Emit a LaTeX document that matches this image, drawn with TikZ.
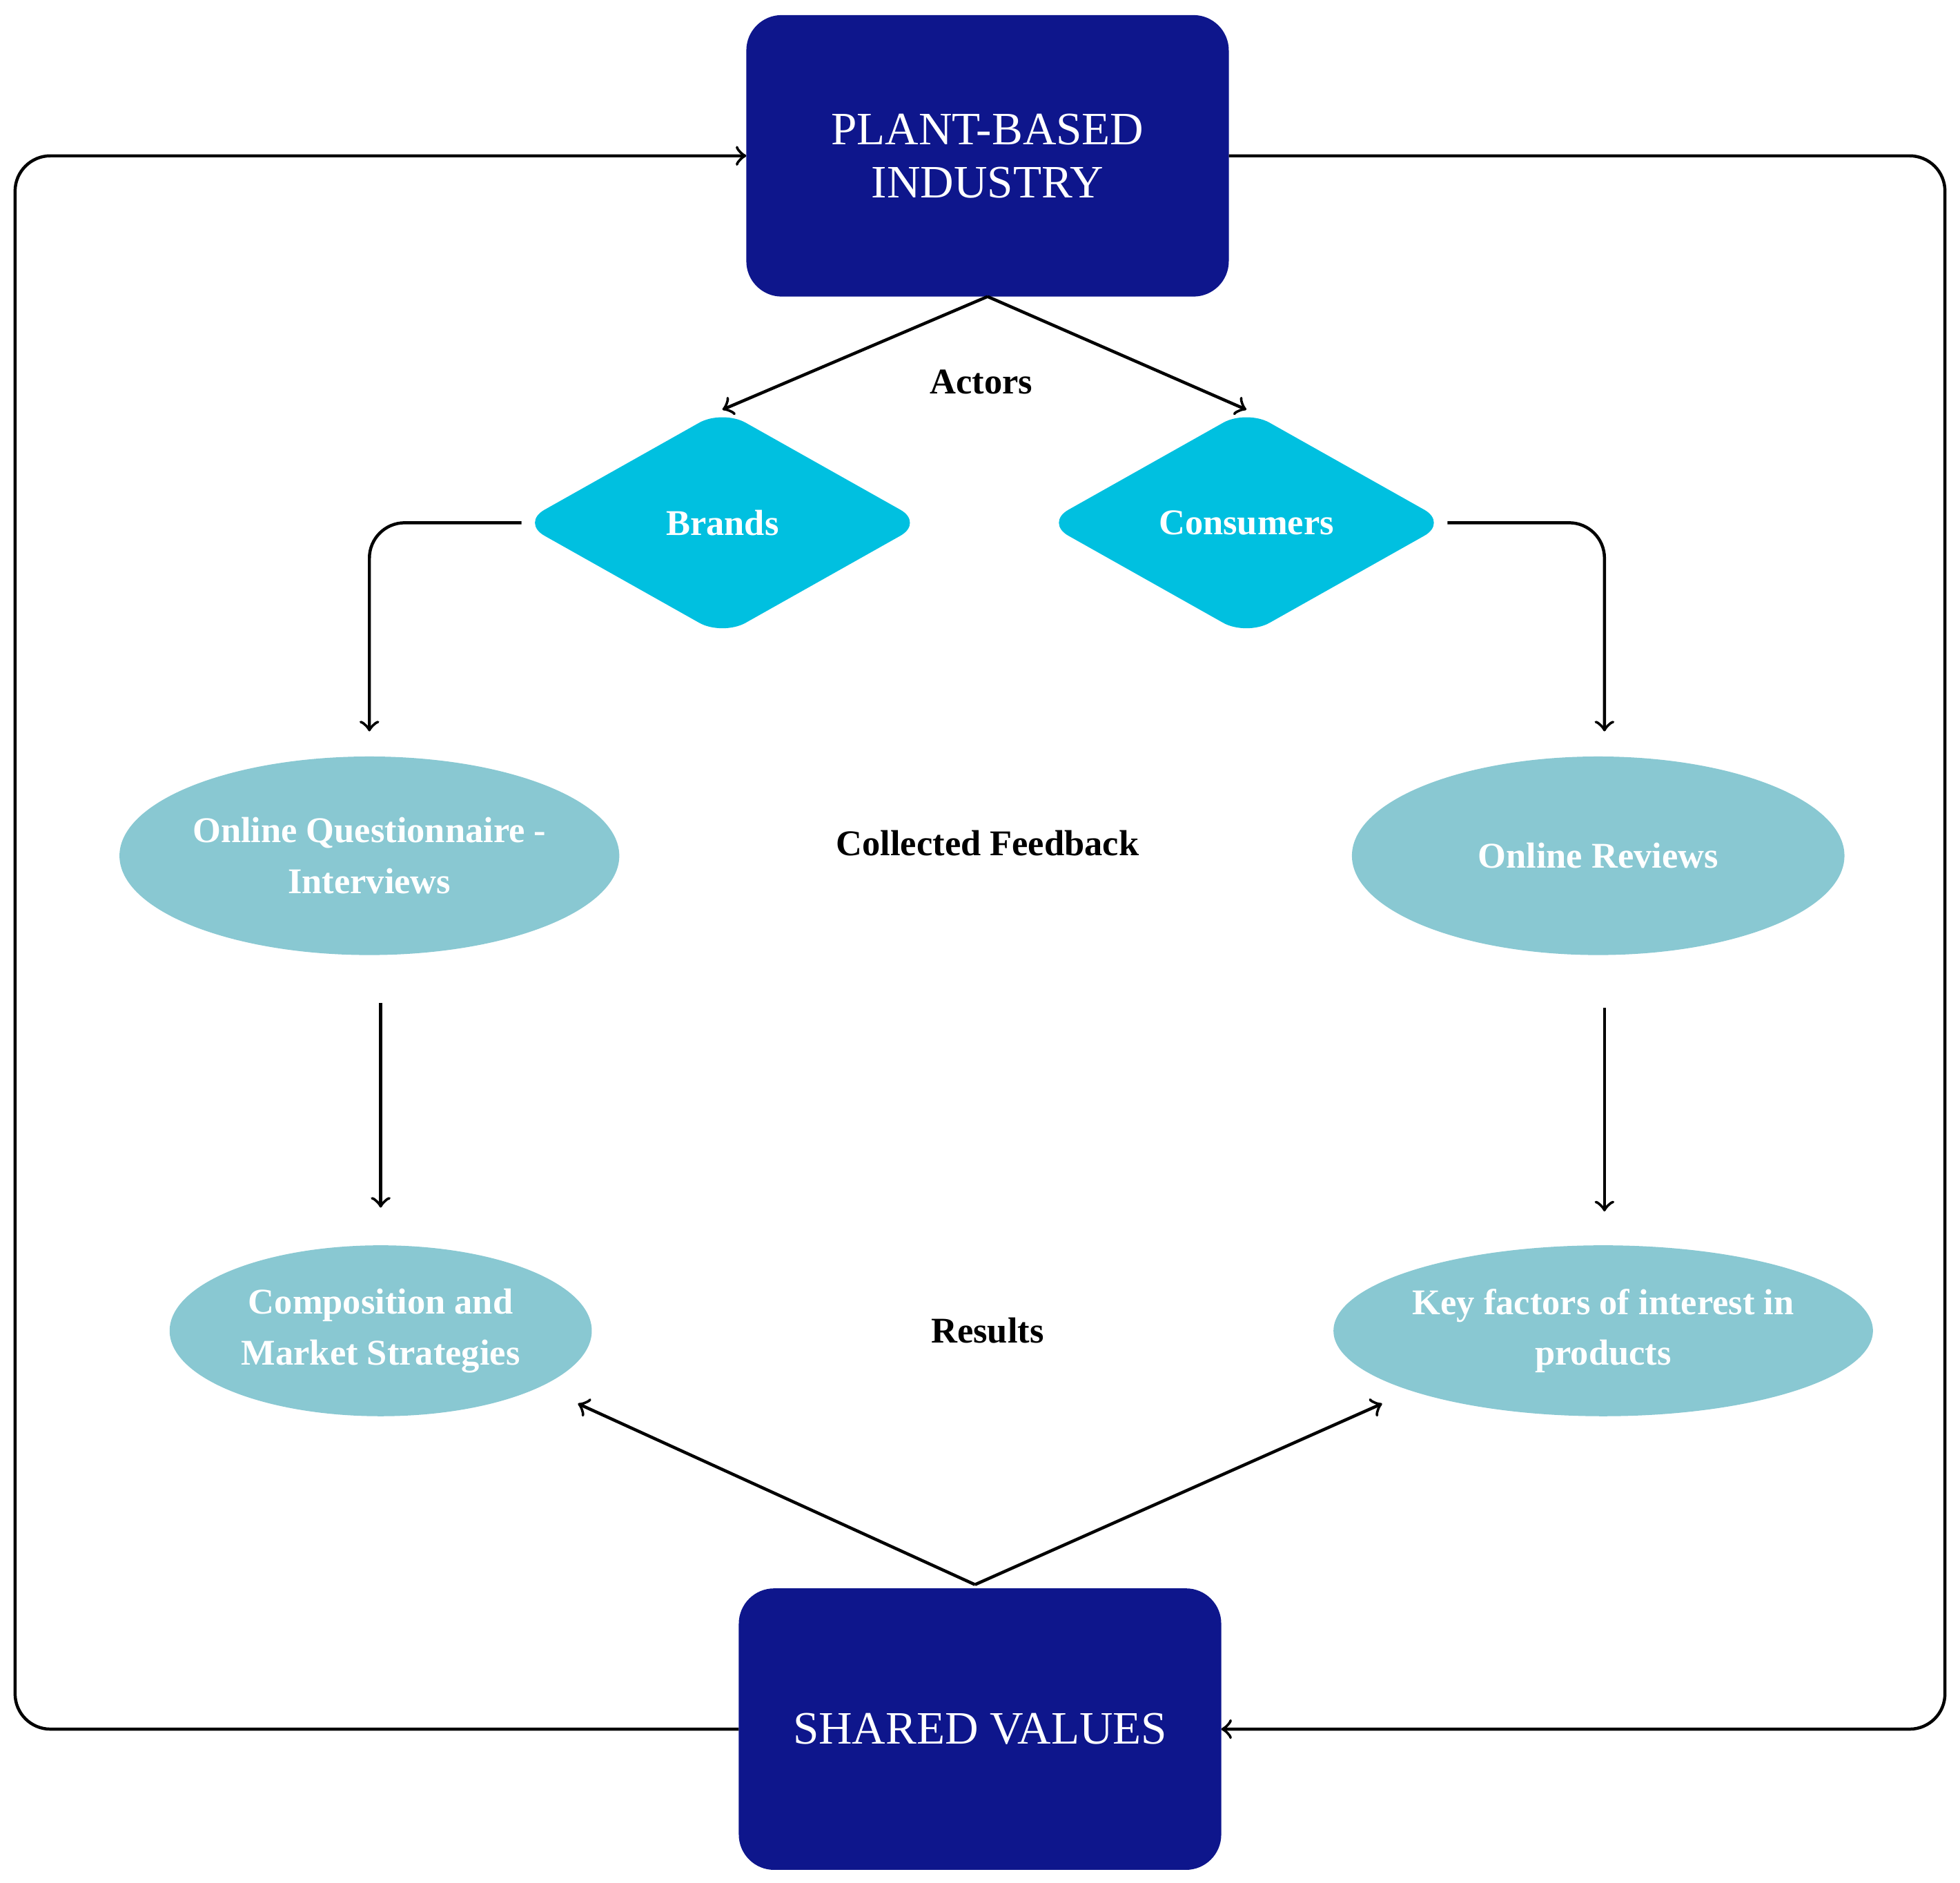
\documentclass[tikz,border=0pt]{standalone}
\usepackage{fontspec}
\setmainfont{Liberation Serif}
\usetikzlibrary{shapes,shapes.geometric}
\usetikzlibrary{arrows}
\definecolor{navybox}{HTML}{0E168C}
\definecolor{cyandiam}{HTML}{00C0E0}
\definecolor{tealell}{HTML}{89C8D2}
\tikzset{
	bigbox/.style={fill=navybox,rounded corners=8pt,outer sep=0pt,minimum width=3.84cm,minimum height=2.24cm,text=white,align=center,font=\fontsize{10.5}{12}\selectfont},
	actor/.style={diamond,fill=cyandiam,rounded corners=6pt,outer sep=0pt,minimum width=3.2cm,minimum height=1.8cm,inner sep=0pt,text=white,font=\bfseries\fontsize{8.2}{10}\selectfont},
	source/.style={ellipse,fill=tealell,inner sep=0pt,outer sep=0pt,text=white,align=center,font=\bfseries\fontsize{8.2}{11.5}\selectfont},
	caption/.style={font=\bfseries\fontsize{8.2}{10}\selectfont},
	link/.style={->,line width=0.7pt}
}
\begin{document}
\begin{tikzpicture}
			\useasboundingbox (0,0) rectangle (15.6,-14.98);
			% boxes
			\node[bigbox] (industry) at (7.86,-1.24) {PLANT-BASED\\INDUSTRY};
			\node[bigbox] (values) at (7.80,-13.76) {SHARED VALUES};
			% actors
			\node[actor] (brands) at (5.75,-4.16) {Brands};
			\node[actor] (consumers) at (9.92,-4.16) {Consumers};
			% feedback and results
			\node[source,minimum width=3.92cm,minimum height=1.58cm] (survey) at (2.94,-6.81) {Online Questionnaire -\\Interviews};
			\node[source,minimum width=3.92cm,minimum height=1.58cm] (reviews) at (12.72,-6.81) {Online Reviews};
			\node[source,minimum width=3.36cm,minimum height=1.36cm] (strategies) at (3.03,-10.59) {Composition and\\Market Strategies};
			\node[source,minimum width=3.36cm,minimum height=1.36cm] (factors) at (12.76,-10.59) {Key factors of interest in\\products};
			\node[caption] (actors) at (7.81,-3.04) {Actors};
			\node[caption] (feedback) at (7.86,-6.71) {Collected Feedback};
			\node[caption] (results) at (7.86,-10.59) {Results};
			% free ends
			\coordinate (s1) at (3.03,-7.98);
			\coordinate (s2) at (3.03,-9.61);
			\coordinate (r1) at (12.77,-8.02);
			\coordinate (r2) at (12.77,-9.64);
			\coordinate (vtop) at (7.76,-12.61);
			\coordinate (sarrow) at (4.60,-11.17);
			\coordinate (farrow) at (11.00,-11.17);
			% connectors
			\draw [link] (industry.south) -- (brands.north);
			\draw [link] (industry.south) -- (consumers.north);
			\draw [link,rounded corners=8pt] (brands.west) -| (2.94,-5.82);
			\draw [link,rounded corners=8pt] (consumers.east) -| (12.77,-5.82);
			\draw [link] (s1) -- (s2);
			\draw [link] (r1) -- (r2);
			\draw [link] (vtop) -- (sarrow);
			\draw [link] (vtop) -- (farrow);
			\draw [link,rounded corners=8pt] (values.west) -- (0.12,-13.76) -- (0.12,-1.24) -- (industry.west);
			\draw [link,rounded corners=8pt] (industry.east) -- (15.48,-1.24) -- (15.48,-13.76) -- (values.east);
		\end{tikzpicture}
\end{document}
